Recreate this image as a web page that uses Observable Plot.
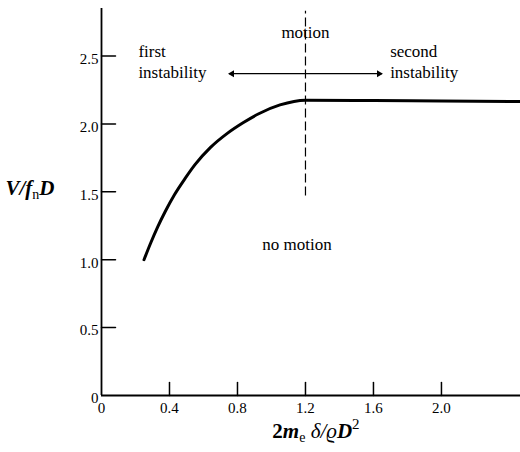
<!DOCTYPE html>
<html>
<head>
<meta charset="utf-8">
<script src="https://cdn.jsdelivr.net/npm/d3@7"></script>
<script src="https://cdn.jsdelivr.net/npm/@observablehq/plot@0.6"></script>
<style>
  html, body { margin: 0; padding: 0; background: #fff; overflow: hidden; }
  #chart { width: 520px; height: 452px; }
</style>
</head>
<body>
<div id="chart"></div>
<script>
// ---- data ----
const curveX = [0.25, 0.29, 0.33, 0.375, 0.43, 0.49, 0.55, 0.64, 0.74, 0.835, 0.925, 1.05, 1.20, 1.60, 2.00, 2.465];
const curveY = [1.00, 1.125, 1.24, 1.355, 1.48, 1.595, 1.70, 1.825, 1.93, 2.01, 2.075, 2.14, 2.175, 2.172, 2.168, 2.165];

const xTickValues = [0, 0.4, 0.8, 1.2, 1.6, 2.0];
const xTickLabels = ["0", "0.4", "0.8", "1.2", "1.6", "2.0"];
const yTickValues = [0, 0.5, 1.0, 1.5, 2.0, 2.5];
const yTickLabels = ["0", "0.5", "1.0", "1.5", "2.0", "2.5"];

const boundaryX = [1.2];
const boundaryY = [1.47, 2.83];

const arrowY = [2.37];
const arrowTips = [0.75, 1.65];

const noteText = ["motion", "first\ninstability", "second\ninstability", "no motion"];
const noteX = [1.2, 0.217, 1.698, 0.946];
const noteY = [2.636, 2.34, 2.34, 1.075];

const yLabel = ["V/fnD"];
const xLabel = ["2me δ/ϱD2"];

// ---- build ----
const curve = curveX.map((x, i) => ({x, y: curveY[i]}));
const notes = noteText.map((t, i) => ({t, x: noteX[i], y: noteY[i], anchor: t === "motion" ? "middle" : "start"}));
const tickLine = {draw(ctx, l) { ctx.moveTo(0, 0); ctx.lineTo(0, -l); }};

const plot = Plot.plot({
  width: 520,
  height: 452,
  marginLeft: 101,
  marginRight: 0,
  marginTop: 8,
  marginBottom: 57,
  style: {fontFamily: "'Liberation Serif', 'Times New Roman', serif", fontSize: "16px", background: "#fff", color: "#000"},
  x: {domain: [0, 2.465]},
  y: {domain: [0, 2.85]},
  marks: [
    Plot.axisX(xTickValues, {label: null, tickSize: 0, tickPadding: 7, tickFormat: (d) => xTickLabels[xTickValues.indexOf(d)], fontSize: 15, style: "letter-spacing:1.5px"}),
    Plot.axisY(yTickValues, {label: null, tickSize: 0, tickPadding: 3, dy: 3, tickFormat: (d) => yTickLabels[yTickValues.indexOf(d)], fontSize: 15, style: "letter-spacing:1.5px"}),
    Plot.ruleX([0], {stroke: "#000", strokeWidth: 1.8}),
    Plot.ruleY([0], {stroke: "#000", strokeWidth: 1.8}),
    Plot.vector(yTickValues.filter(d => d > 0), {x: 0, y: d => d, length: 14, rotate: 90, anchor: "start", shape: tickLine, stroke: "#000", strokeWidth: 1.5}),
    Plot.vector(xTickValues.filter(d => d > 0), {x: d => d, y: 0, length: 13, rotate: 0, anchor: "start", shape: tickLine, stroke: "#000", strokeWidth: 1.5}),
    Plot.ruleX(boundaryX, {y1: boundaryY[0], y2: boundaryY[1], stroke: "#000", strokeWidth: 1.2, strokeDasharray: "9,4"}),
    Plot.link(arrowTips, {x1: boundaryX[0], x2: d => d, y1: arrowY[0], y2: arrowY[0], stroke: "#000", strokeWidth: 1.2}),
    Plot.dot([arrowTips[0]], {x: d => d, y: arrowY[0], symbol: "triangle2", r: 3.3, rotate: -90, dx: 3, fill: "#000", stroke: "none"}),
    Plot.dot([arrowTips[1]], {x: d => d, y: arrowY[0], symbol: "triangle2", r: 3.3, rotate: 90, dx: -3, fill: "#000", stroke: "none"}),
    Plot.line(curve, {x: "x", y: "y", curve: "monotone-x", stroke: "#000", strokeWidth: 3, strokeLinecap: "round"}),
    Plot.text(notes.filter(d => d.anchor === "middle"), {x: "x", y: "y", text: "t", textAnchor: "middle", lineAnchor: "bottom", fontSize: 17, style: "letter-spacing:0.6px"}),
    Plot.text(notes.filter(d => d.anchor === "start"), {x: "x", y: "y", text: "t", textAnchor: "start", lineAnchor: "bottom", lineHeight: 1.25, fontSize: 17, style: "letter-spacing:0.6px"}),
    Plot.text(yLabel, {frameAnchor: "left", y: 1.473, dx: -96, text: d => d, textAnchor: "start", lineAnchor: "bottom", fontSize: 21, className: "ylab", style: "letter-spacing:0.8px"}),
    Plot.text(xLabel, {frameAnchor: "bottom", x: 1.005, dy: 42, text: d => d, textAnchor: "start", lineAnchor: "bottom", fontSize: 21, className: "xlab", style: "letter-spacing:0.8px"})
  ]
});

document.getElementById("chart").appendChild(plot);

// rich text: subscripts, superscripts, italics
function rich(sel, parts) {
  const t = d3.select(plot).select(sel);
  if (t.empty()) return;
  t.text(null);
  parts.forEach(p => {
    const s = t.append("tspan").text(p.t);
    if (p.w) s.attr("font-weight", p.w);
    if (p.i) s.attr("font-style", "italic");
    if (p.fs) s.attr("font-size", p.fs);
    if (p.dy) s.attr("dy", p.dy);
  });
}
rich("g.ylab text", [
  {t: "V/f", w: "bold", i: true},
  {t: "n", fs: 14, dy: 4},
  {t: "D", w: "bold", i: true, dy: -4}
]);
rich("g.xlab text", [
  {t: "2", w: "bold"},
  {t: "m", w: "bold", i: true},
  {t: "e", fs: 14, dy: 4},
  {t: " δ/ϱ", i: true, dy: -4},
  {t: "D", w: "bold", i: true},
  {t: "2", fs: 15, dy: -9}
]);
</script>
</body>
</html>
